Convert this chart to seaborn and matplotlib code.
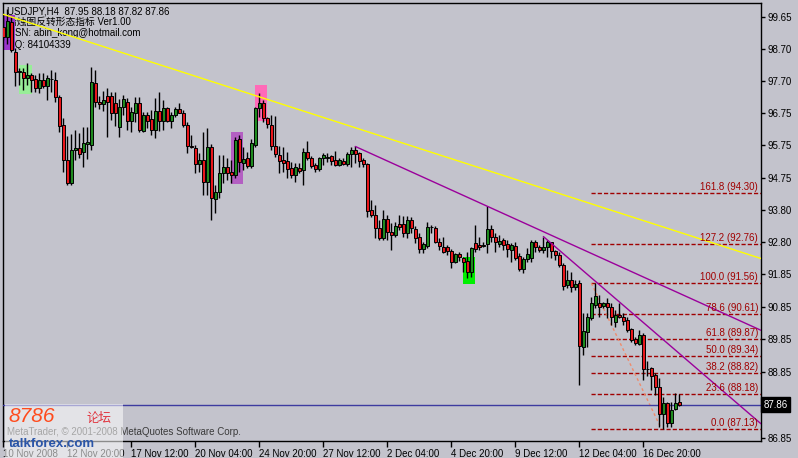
import numpy as np
import pandas as pd
import seaborn as sns
import matplotlib.pyplot as plt
from matplotlib.patches import Rectangle

# USDJPY H4 bars (one entry per candle, oldest first)
opens = [
    99.35, 99.05, 99.50, 98.60, 97.98, 97.99, 97.79, 97.90, 97.76, 97.49,
    97.74, 97.55, 97.78, 97.74, 97.22, 96.37, 95.30, 94.60, 95.60, 95.67,
    95.55, 95.80, 95.75, 97.65, 97.08, 97.00, 97.25, 97.26, 97.05, 96.30,
    96.93, 97.08, 96.50, 96.75, 97.04, 96.20, 96.68, 96.55, 96.22, 96.81,
    96.50, 96.90, 96.50, 96.68, 96.85, 96.75, 96.37, 95.73, 95.67, 95.20,
    95.32, 94.65, 95.70, 94.12, 94.33, 94.90, 95.10, 94.95, 94.85, 95.94,
    95.22, 95.37, 95.13, 95.77, 96.88, 97.04, 96.58, 96.37, 95.72, 95.47,
    95.30, 95.28, 95.08, 94.85, 95.08, 95.00, 95.56, 95.36, 95.15, 95.02,
    95.36, 95.38, 95.43, 95.30, 95.15, 95.28, 95.20, 95.50, 95.62, 95.52,
    95.30, 95.20, 93.80, 93.63, 93.23, 92.95, 93.50, 93.13, 93.03, 93.36,
    93.36, 93.08, 93.48, 93.20, 92.96, 92.60, 92.69, 93.26, 93.23, 92.80,
    92.67, 92.65, 92.55, 92.22, 92.45, 92.32, 92.25, 91.91, 92.78, 92.72,
    92.70, 92.74, 93.20, 92.98, 92.75, 92.87, 92.74, 92.57, 92.70, 92.40,
    91.98, 92.29, 92.32, 92.82, 92.67, 92.57, 92.67, 92.80, 92.55, 92.42,
    92.11, 91.50, 91.65, 91.43, 91.58, 89.63, 90.08, 90.50, 90.91, 90.97,
    90.88, 90.95, 90.85, 90.39, 90.60, 90.54, 90.44, 90.16, 89.85, 89.71,
    89.98, 88.95, 88.97, 88.77, 88.41, 87.58, 87.93, 87.30, 87.73, 87.95,
]
highs = [
    99.75, 99.90, 99.65, 98.72, 98.10, 98.10, 98.25, 97.95, 97.89, 97.95,
    97.95, 97.88, 98.05, 97.99, 97.29, 96.60, 96.04, 96.10, 96.22, 96.12,
    96.32, 96.30, 98.13, 98.05, 97.25, 97.40, 97.50, 97.39, 97.39, 97.17,
    97.29, 97.19, 96.93, 97.23, 97.23, 96.78, 96.78, 96.83, 97.19, 97.39,
    97.13, 96.93, 96.78, 96.93, 97.03, 96.83, 96.47, 96.07, 95.76, 95.51,
    96.17, 96.27, 95.80, 94.55, 95.46, 95.46, 95.36, 95.31, 96.02, 96.07,
    95.71, 95.56, 95.94, 96.93, 97.35, 97.13, 96.63, 96.68, 96.65, 95.73,
    95.71, 95.56, 95.26, 95.21, 95.21, 95.66, 95.90, 95.43, 95.23, 95.41,
    95.51, 95.53, 95.46, 95.58, 95.36, 95.36, 95.56, 95.71, 95.72, 95.56,
    95.36, 95.23, 94.09, 93.94, 93.48, 93.79, 93.64, 93.38, 93.43, 93.64,
    93.60, 93.60, 93.57, 93.30, 93.08, 92.82, 93.43, 93.33, 93.30, 92.93,
    92.98, 92.72, 92.59, 92.49, 92.52, 92.37, 92.52, 92.67, 93.33, 92.98,
    92.82, 93.90, 93.33, 93.08, 93.03, 92.93, 92.87, 92.79, 92.82, 92.47,
    92.37, 92.62, 92.87, 92.87, 92.72, 92.98, 92.87, 92.82, 92.57, 92.52,
    92.16, 91.96, 91.91, 91.66, 91.66, 90.66, 90.66, 91.15, 91.56, 91.20,
    91.00, 91.10, 90.95, 90.75, 90.95, 90.65, 90.54, 90.19, 89.93, 90.14,
    90.04, 89.20, 89.02, 88.82, 88.67, 88.11, 87.96, 87.96, 88.23, 88.18,
]
lows = [
    98.95, 98.85, 98.60, 97.55, 97.59, 97.44, 97.59, 97.39, 97.39, 97.34,
    97.49, 97.13, 97.39, 97.08, 96.17, 94.94, 94.55, 94.55, 95.31, 95.36,
    95.10, 95.35, 95.60, 96.93, 96.85, 96.80, 96.00, 96.53, 96.33, 96.00,
    96.68, 96.22, 96.17, 96.47, 96.17, 96.17, 96.27, 96.07, 95.97, 96.20,
    96.22, 96.47, 96.27, 96.63, 96.73, 96.32, 95.51, 95.66, 94.90, 94.95,
    94.24, 94.24, 93.48, 93.69, 94.14, 94.60, 94.70, 94.60, 94.75, 94.95,
    95.00, 95.06, 95.06, 95.71, 96.63, 96.47, 96.27, 95.61, 95.41, 94.90,
    94.95, 94.75, 94.75, 94.65, 94.90, 94.55, 95.31, 95.06, 94.95, 94.98,
    95.16, 95.26, 95.16, 95.13, 95.13, 95.16, 95.13, 95.10, 95.21, 95.10,
    95.10, 93.58, 93.58, 92.93, 92.87, 92.88, 92.88, 92.57, 92.98, 93.18,
    92.98, 92.93, 93.08, 92.77, 92.47, 92.47, 92.62, 93.08, 92.77, 92.57,
    92.47, 92.42, 92.01, 92.18, 92.25, 91.91, 91.71, 91.76, 92.52, 92.57,
    92.67, 92.47, 92.82, 92.52, 92.67, 92.57, 92.37, 92.22, 92.27, 91.93,
    91.86, 92.22, 92.22, 92.52, 92.52, 92.47, 92.37, 92.32, 92.27, 92.06,
    91.35, 91.41, 91.30, 91.35, 88.46, 89.38, 89.63, 90.44, 90.80, 90.54,
    90.80, 90.49, 90.29, 90.24, 90.49, 90.29, 90.08, 89.78, 89.68, 89.68,
    88.62, 88.74, 88.31, 88.16, 87.20, 87.13, 87.18, 87.20, 87.70, 87.82,
]
closes = [
    99.05, 99.55, 98.65, 97.98, 98.02, 97.79, 97.89, 97.75, 97.49, 97.74,
    97.55, 97.80, 97.76, 97.24, 96.34, 95.30, 94.60, 95.60, 95.67, 95.50,
    95.82, 95.85, 97.68, 97.07, 97.00, 97.12, 97.08, 96.75, 96.75, 96.93,
    97.15, 96.50, 96.78, 97.05, 96.22, 96.68, 96.50, 96.22, 96.81, 96.50,
    96.88, 96.50, 96.68, 96.85, 96.75, 96.37, 95.72, 95.71, 95.20, 95.30,
    94.65, 95.70, 94.14, 94.33, 94.90, 95.10, 94.90, 94.85, 95.92, 95.26,
    95.34, 95.13, 95.82, 96.88, 97.04, 96.58, 96.40, 95.72, 95.50, 95.28,
    95.22, 95.02, 94.85, 95.10, 94.98, 95.56, 95.36, 95.13, 95.05, 95.36,
    95.45, 95.39, 95.28, 95.15, 95.30, 95.20, 95.50, 95.62, 95.50, 95.28,
    95.20, 93.77, 93.63, 93.23, 92.95, 93.50, 93.13, 93.03, 93.30, 93.28,
    93.08, 93.48, 93.23, 92.93, 92.60, 92.76, 93.27, 93.27, 92.80, 92.69,
    92.52, 92.55, 92.22, 92.45, 92.35, 92.22, 91.91, 92.62, 92.60, 92.66,
    92.71, 93.20, 92.98, 92.82, 92.85, 92.72, 92.59, 92.72, 92.32, 91.98,
    92.29, 92.45, 92.82, 92.65, 92.57, 92.67, 92.80, 92.55, 92.42, 92.11,
    91.48, 91.65, 91.43, 91.55, 89.65, 90.12, 90.54, 90.95, 91.16, 90.85,
    90.97, 90.85, 90.54, 90.59, 90.54, 90.40, 90.13, 89.83, 89.73, 89.98,
    88.94, 88.96, 88.74, 88.41, 87.58, 87.93, 87.30, 87.70, 87.91, 87.86,
]

tick_bars = [0, 16, 32, 48, 64, 80, 96, 112, 128, 144, 160]
tick_labels = ["10 Nov 2008", "12 Nov 20:00", "17 Nov 12:00", "20 Nov 04:00",
               "24 Nov 20:00", "27 Nov 12:00", "2 Dec 04:00", "4 Dec 20:00",
               "9 Dec 12:00", "12 Dec 04:00", "16 Dec 20:00"]
price_ticks = [99.65, 98.70, 97.70, 96.75, 95.75, 94.75, 93.80, 92.80,
               91.85, 90.85, 89.85, 88.85, 86.85]
bid = 87.86

# fibonacci retracement object
fib_levels = [0.0, 23.6, 38.2, 50.0, 61.8, 78.6, 100.0, 127.2, 161.8]
fib_prices = [87.13, 88.18, 88.82, 89.34, 89.87, 90.61, 91.56, 92.76, 94.30]
fib_bars = [147, 164.5]          # anchor bars of the 100 -> 0 swing

# trendlines, two anchors each (bar, price)
yellow_bars, yellow_prices = [0, 64], [99.74, 97.23]
purple1_bars, purple1_prices = [88, 121], [95.72, 93.90]
purple2_bars, purple2_prices = [135, 169], [92.98, 89.42]

# pattern highlight boxes from the indicator
box_from = [-0.6, 3.9, 56.9, 62.9, 115.0]
box_to = [2.9, 7.1, 60.0, 66.0, 117.9]
box_low = [98.66, 97.32, 94.58, 96.50, 91.54]
box_high = [99.72, 98.20, 96.17, 97.59, 92.37]
box_colors = ["#9a35cc", "#98ee98", "#b35fc2", "#ff6ab8", "#00f000"]

BG = "#c3c3cc"
FIB = "#a00000"

sns.set_theme(style="white", rc={"axes.facecolor": BG, "figure.facecolor": BG})
plt.rcParams["font.family"] = ["Liberation Sans", "Noto Sans CJK SC", "DejaVu Sans"]

df = pd.DataFrame({"open": opens, "high": highs, "low": lows, "close": closes})
df["bar"] = np.arange(len(df))
df["bull"] = df["close"] >= df["open"]

W, H = 798, 458
fig = plt.figure(figsize=(W / 100, H / 100), dpi=100)
ax = fig.add_axes([3 / W, 17 / H, 758 / W, 438 / H])
xmax = 189.4
ax.set_xlim(-0.075, xmax)
ax.set_ylim(86.76, 100.085)


def axpos(x, y):
    # pixel position in the picture -> axes fraction
    return (x - 3) / 758, (441 - y) / 438


# indicator header text (drawn under the candles)
header = ["USDJPY,H4  87.95 88.18 87.82 87.86",
          "蜡烛图反转形态指标 Ver1.00",
          "MSN: abin_kong@hotmail.com",
          "QQ: 84104339"]
for k, line in enumerate(header):
    ax.text(*axpos(7, 11 + k * 11.2), line, transform=ax.transAxes,
            fontsize=7, va="center", ha="left", color="black", zorder=1)
ax.text(*axpos(7, 432), "MetaTrader, © 2001-2008 MetaQuotes Software Corp.",
        transform=ax.transAxes, fontsize=7, va="center", color="#3a3a3a", zorder=1)

for x0, x1, lo, hi, c in zip(box_from, box_to, box_low, box_high, box_colors):
    ax.add_patch(Rectangle((x0, lo), x1 - x0, hi - lo, color=c, lw=0, zorder=2))


def ray(bars, prices, color, **kw):
    slope = (prices[1] - prices[0]) / (bars[1] - bars[0])
    xs = np.array([bars[0], xmax])
    sns.lineplot(x=xs, y=prices[0] + slope * (xs - bars[0]), ax=ax,
                 color=color, lw=1, legend=False, zorder=5, **kw)


ray(yellow_bars, yellow_prices, "#ffff00")
ray(purple1_bars, purple1_prices, "#9b009b")
ray(purple2_bars, purple2_prices, "#9b009b")

# fibonacci levels
ax.hlines(fib_prices, fib_bars[0], xmax, colors=FIB, linestyles=(0, (3, 1.5)),
          lw=1, zorder=2.5)
ax.plot(fib_bars, [fib_prices[6], fib_prices[0]], color="#f08a6a",
        ls=(0, (2, 2)), lw=1, zorder=2.5)
for lvl, p in zip(fib_levels, fib_prices):
    ax.annotate(f"{lvl:.1f} ({p:.2f})", xy=(1, p), xycoords=("axes fraction", "data"),
                xytext=(-2, 0.8), textcoords="offset points", ha="right", va="bottom",
                color=FIB, fontsize=7, zorder=6)

ax.axhline(bid, color="#3d3ba0", lw=1, zorder=2.6)

# candles
ax.vlines(df["bar"], df["low"], df["high"], color="black", lw=1, zorder=3)
body_lo = df[["open", "close"]].min(axis=1)
body_h = (df["close"] - df["open"]).abs()
ax.bar(df["bar"], body_h, bottom=body_lo, width=0.72,
       color=np.where(df["bull"], "#1f8a1f", "#e8161b"),
       edgecolor="black", linewidth=0.7, zorder=4)

# axes / ticks
for s in ax.spines.values():
    s.set_color("black")
    s.set_linewidth(1)
ax.yaxis.tick_right()
ax.set_yticks(price_ticks)
ax.set_yticklabels([f"{v:.2f}" for v in price_ticks])
ax.set_xticks(tick_bars)
ax.set_xticklabels(tick_labels)
for lbl in ax.get_xticklabels():
    lbl.set_ha("left")
ax.tick_params(axis="y", direction="out", length=3, width=1, pad=2,
               labelsize=7, colors="black", right=True, left=False)
ax.tick_params(axis="x", direction="out", length=4, width=1, pad=2,
               labelsize=7, colors="black", bottom=True)
ax.grid(False)

ax.annotate(f"{bid:.2f}", xy=(1, bid), xycoords=("axes fraction", "data"),
            xytext=(2, 0), textcoords="offset points", ha="left", va="center",
            color="white", fontsize=7, annotation_clip=False,
            bbox=dict(boxstyle="square,pad=0.25", fc="black", ec="black"))

# forum watermark in the bottom-left corner
fig.add_artist(Rectangle((5 / W, 0), 118 / W, 54 / H, transform=fig.transFigure,
                         fc="white", ec="none", alpha=0.55, zorder=10))
fig.text(8 / W, 1 - 417 / H, "8786", fontsize=15, color="#ff4a1c", style="italic",
         va="center", ha="left", zorder=11)
fig.text(86 / W, 1 - 418 / H, "论坛", fontsize=9, color="#e0303a",
         family=["Noto Sans CJK SC", "DejaVu Sans"], va="center", ha="left", zorder=11)
fig.text(9 / W, 1 - 444 / H, "talkforex.com", fontsize=9.5, weight="bold",
         color="#2a55a8", va="center", ha="left", zorder=11)

fig.savefig("out.png", dpi=100, facecolor=BG)
